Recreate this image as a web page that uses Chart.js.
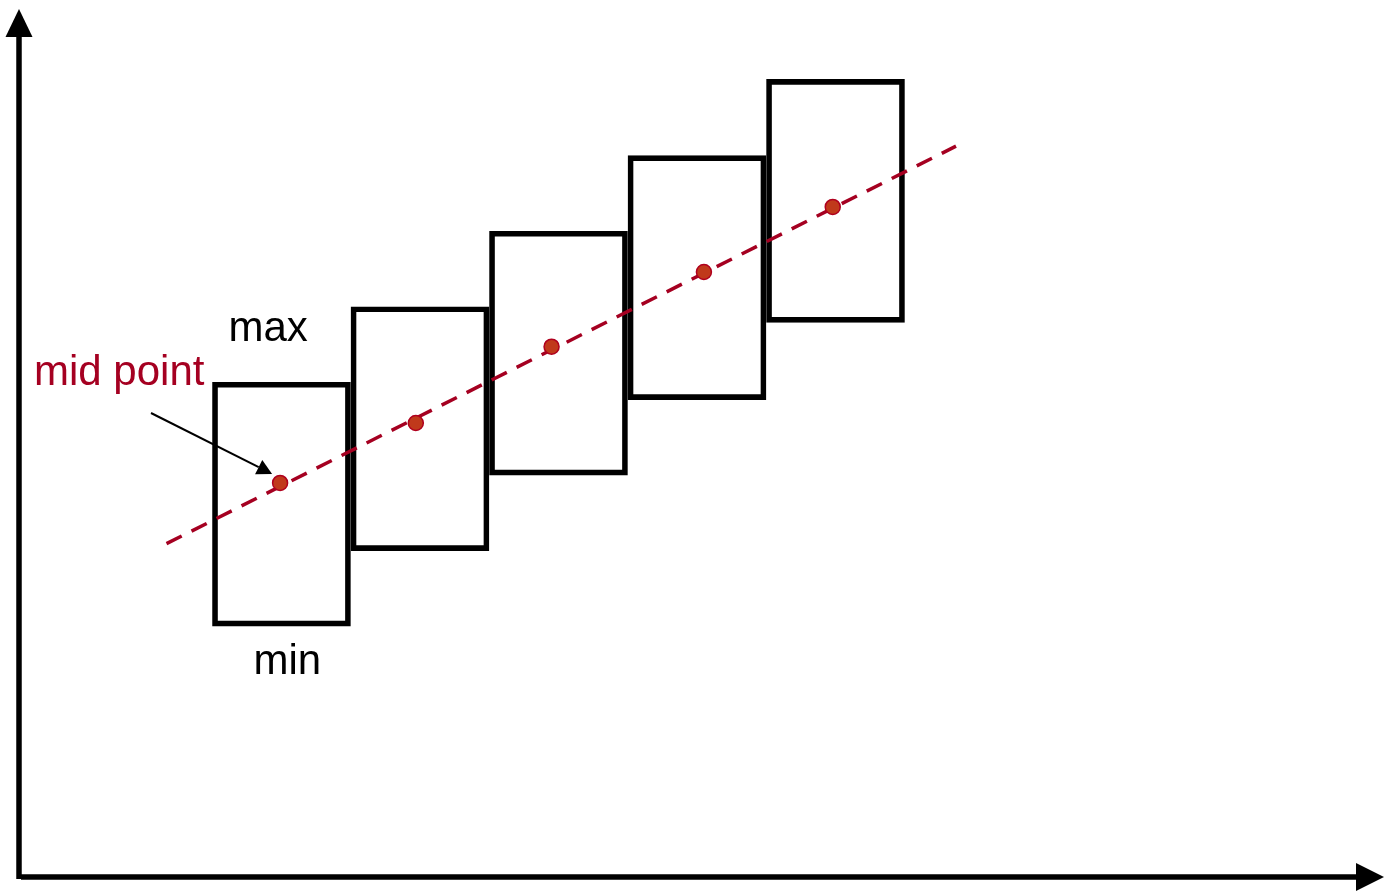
<!DOCTYPE html>
<html>
<head>
<meta charset="utf-8">
<script src="https://cdn.jsdelivr.net/npm/chart.js@4"></script>
<style>
  html, body { margin: 0; padding: 0; background: #fff; }
  #wrap { width: 1393px; height: 894px; position: relative; }
</style>
</head>
<body>
<div id="wrap"><canvas id="rangeChart"></canvas></div>
<script>
// box positions and their min / max
const boxX = [1, 2, 3, 4, 5];
const boxMin = [28.9, 37.6, 46.3, 55.0, 63.9];
const boxMax = [57.0, 65.7, 74.4, 83.1, 91.9];

// mid points (read off the picture, not exactly the box centres)
const midX = [0.99, 1.97, 2.95, 4.05, 4.98];
const midY = [45.4, 52.3, 61.1, 69.7, 77.2];

// dashed trend line end points
const trendX = [0.17, 5.87];
const trendY = [38.4, 84.2];

const RED = '#a50021';

const extras = {
    id: 'extras',
    afterDraw(chart) {
        const ctx = chart.ctx;
        const area = chart.chartArea;
        const ax = area.left, ay = area.bottom;

        ctx.save();
        ctx.fillStyle = '#000';
        ctx.strokeStyle = '#000';

        // y axis + arrow
        ctx.lineWidth = 5.5;
        ctx.beginPath();
        ctx.moveTo(ax, ay + 2);
        ctx.lineTo(ax, area.top + 20);
        ctx.stroke();
        ctx.beginPath();
        ctx.moveTo(ax, area.top);
        ctx.lineTo(ax - 13.5, area.top + 28);
        ctx.lineTo(ax + 13.5, area.top + 28);
        ctx.closePath();
        ctx.fill();

        // x axis + arrow
        ctx.beginPath();
        ctx.moveTo(ax + 2, ay);
        ctx.lineTo(area.right - 20, ay);
        ctx.stroke();
        ctx.beginPath();
        ctx.moveTo(area.right, ay);
        ctx.lineTo(area.right - 28, ay - 14);
        ctx.lineTo(area.right - 28, ay + 14);
        ctx.closePath();
        ctx.fill();

        // labels near the first box
        const bar = chart.getDatasetMeta(0).data[0];
        const left = bar.x - bar.width / 2;
        ctx.font = '42px "Liberation Sans", Arial, sans-serif';
        ctx.textBaseline = 'alphabetic';
        ctx.textAlign = 'left';
        ctx.fillText('max', left + 16, bar.y - 41);
        ctx.fillText('min', left + 41, bar.base + 48);
        ctx.fillStyle = RED;
        ctx.fillText('mid point', 34, bar.y + 3);

        // pointer arrow to the first mid point
        const dot = chart.getDatasetMeta(2).data[0];
        const sx = 151, sy = 413;
        const tx = dot.x - 8, ty = dot.y - 9;
        const ang = Math.atan2(ty - sy, tx - sx);
        const hl = 15, hw = 8;
        const bx = tx - hl * Math.cos(ang), by = ty - hl * Math.sin(ang);
        ctx.strokeStyle = '#000';
        ctx.fillStyle = '#000';
        ctx.lineWidth = 2;
        ctx.beginPath();
        ctx.moveTo(sx, sy);
        ctx.lineTo(bx, by);
        ctx.stroke();
        ctx.beginPath();
        ctx.moveTo(tx, ty);
        ctx.lineTo(bx + hw * Math.sin(ang), by - hw * Math.cos(ang));
        ctx.lineTo(bx - hw * Math.sin(ang), by + hw * Math.cos(ang));
        ctx.closePath();
        ctx.fill();
        ctx.restore();
    }
};

const ctx = document.getElementById('rangeChart').getContext('2d');
new Chart(ctx, {
    type: 'bar',
    data: {
        datasets: [
            {
                type: 'bar',
                data: boxX.map((x, i) => ({ x: x, y: [boxMin[i], boxMax[i]] })),
                backgroundColor: 'rgba(255,255,255,0)',
                borderColor: '#000',
                borderWidth: 5,
                borderSkipped: false,
                barThickness: 138,
                order: 3
            },
            {
                type: 'line',
                data: trendX.map((x, i) => ({ x: x, y: trendY[i] })),
                borderColor: RED,
                borderWidth: 3.5,
                borderDash: [17, 11],
                pointRadius: 0,
                fill: false,
                order: 2
            },
            {
                type: 'scatter',
                data: midX.map((x, i) => ({ x: x, y: midY[i] })),
                backgroundColor: '#c0391b',
                borderColor: '#b0001e',
                borderWidth: 1.5,
                pointRadius: 7.5,
                order: 1
            }
        ]
    },
    options: {
        responsive: true,
        maintainAspectRatio: false,
        animation: false,
        layout: { padding: { left: 19, right: 6, top: 5, bottom: 17 } },
        plugins: { legend: { display: false }, tooltip: { enabled: false } },
        scales: {
            x: { type: 'linear', min: -0.895, max: 8.96, offset: false, display: false },
            y: { type: 'linear', min: 0, max: 100, display: false }
        }
    },
    plugins: [extras]
});
</script>
</body>
</html>
